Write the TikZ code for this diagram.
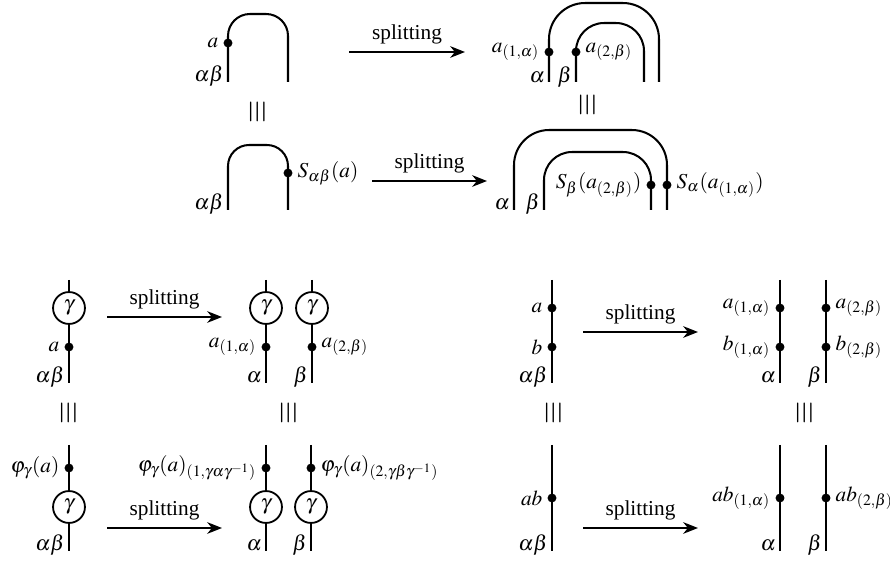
\documentclass[tikz,border=0pt]{standalone}
\usepackage{mathptmx}
\usepackage{fontspec}
\setmainfont{Liberation Serif}
\usetikzlibrary{arrows.meta}

\begin{document}
\begin{tikzpicture}[x=0.47pt, y=-0.47pt, line width=0.95pt,
	dot/.style={circle, fill, inner sep=0pt, minimum size=4.2pt},
	coupon/.style={circle, draw, inner sep=0pt, minimum size=15pt, line width=0.85pt},
	split/.style={-{Stealth[length=7pt, width=5.5pt]}, line width=0.85pt},
	strandlbl/.style={left, inner sep=1.5pt},
	every label/.style={inner sep=1.5pt},
	equal/.style={rotate=90, xscale=1.4, yscale=1.6, inner sep=0pt}]

	\useasboundingbox (0,0) rectangle (890,563);

	% antipode, first side
	\draw[rounded corners=10.3pt] (228,82) -- (228,14) -- (288,14) -- (288,82);
	\node[dot, label=left:$a$] (a0) at (228,43) {};
	\node[strandlbl] (ab0) at (228,76) {$\alpha\beta$};
	\coordinate (s1) at (349,52);
	\coordinate (t1) at (465,52);
	\draw[split] (s1) -- (t1) node[midway, above] {splitting};
	\draw[rounded corners=17pt] (549,82) -- (549,3) -- (659,3) -- (659,82);
	\draw[rounded corners=13.2pt] (576,82) -- (576,23) -- (644,23) -- (644,82);
	\node[dot, label=left:$a_{(1,\alpha)}$] (a1) at (549,52) {};
	\node[dot, label=right:$a_{(2,\beta)}$] (a2) at (576,52) {};
	\node[strandlbl] (al1) at (549,77) {$\alpha$};
	\node[strandlbl] (be1) at (576,77) {$\beta$};
	\node[equal] (eq1) at (258,112) {$\equiv$};
	\node[equal] (eq2) at (588,105) {$\equiv$};

	% antipode, second side
	\draw[rounded corners=9.9pt] (228,210) -- (228,145) -- (288,145) -- (288,210);
	\node[dot, label=right:$S_{\alpha\beta}(a)$] (sa0) at (288,173) {};
	\node[strandlbl] (ab1) at (228,204) {$\alpha\beta$};
	\coordinate (s2) at (372,181);
	\coordinate (t2) at (487,181);
	\draw[split] (s2) -- (t2) node[midway, above] {splitting};
	\draw[rounded corners=16.5pt] (514,210) -- (514,130) -- (667,130) -- (667,210);
	\draw[rounded corners=13.2pt] (544,210) -- (544,152) -- (651,152) -- (651,210);
	\node[dot, label=left:$S_{\beta}(a_{(2,\beta)})$] (sa2) at (651,185) {};
	\node[dot, label=right:$S_{\alpha}(a_{(1,\alpha)})$] (sa1) at (667,185) {};
	\node[strandlbl] (al2) at (514,204) {$\alpha$};
	\node[strandlbl] (be2) at (544,204) {$\beta$};

	% crossing, first side
	\node[coupon] (g0) at (69,308) {$\gamma$};
	\draw (69,280) -- (g0) -- (69,383);
	\node[dot, label=left:$a$] (c0) at (69,347) {};
	\node[strandlbl] (ab2) at (69,377) {$\alpha\beta$};
	\coordinate (s3) at (107,317);
	\coordinate (t3) at (222,317);
	\draw[split] (s3) -- (t3) node[midway, above] {splitting};
	\node[coupon] (g1) at (266,308) {$\gamma$};
	\node[coupon] (g2) at (312,308) {$\gamma$};
	\draw (266,280) -- (g1) -- (266,383);
	\draw (312,280) -- (g2) -- (312,383);
	\node[dot, label=left:$a_{(1,\alpha)}$] (c1) at (266,347) {};
	\node[dot, label=right:$a_{(2,\beta)}$] (c2) at (312,347) {};
	\node[strandlbl] (al3) at (266,377) {$\alpha$};
	\node[strandlbl] (be3) at (312,377) {$\beta$};
	\node[equal] (eq3) at (69,413) {$\equiv$};
	\node[equal] (eq4) at (289,413) {$\equiv$};

	% crossing, second side
	\node[coupon] (h0) at (69,507) {$\gamma$};
	\draw (69,445) -- (h0) -- (69,551);
	\node[dot, label=left:$\varphi_{\gamma}(a)$] (d0) at (69,468) {};
	\node[strandlbl] (ab3) at (69,545) {$\alpha\beta$};
	\coordinate (s4) at (107,528);
	\coordinate (t4) at (222,528);
	\draw[split] (s4) -- (t4) node[midway, above] {splitting};
	\node[coupon] (h1) at (266,507) {$\gamma$};
	\node[coupon] (h2) at (311,507) {$\gamma$};
	\draw (266,445) -- (h1) -- (266,551);
	\draw (311,445) -- (h2) -- (311,551);
	\node[dot, label=left:$\varphi_{\gamma}(a)_{(1,\gamma\alpha\gamma^{-1})}$] (d1) at (266,468) {};
	\node[dot, label=right:$\varphi_{\gamma}(a)_{(2,\gamma\beta\gamma^{-1})}$] (d2) at (311,468) {};
	\node[strandlbl] (al4) at (266,545) {$\alpha$};
	\node[strandlbl] (be4) at (311,545) {$\beta$};

	% product, first side
	\draw (552,280) -- (552,383);
	\node[dot, label=left:$a$] (p0) at (552,308) {};
	\node[dot, label=left:$b$] (q0) at (552,347) {};
	\node[strandlbl] (ab4) at (552,377) {$\alpha\beta$};
	\coordinate (s5) at (583,332);
	\coordinate (t5) at (698,332);
	\draw[split] (s5) -- (t5) node[midway, above] {splitting};
	\draw (780,280) -- (780,383);
	\draw (826,280) -- (826,383);
	\node[dot, label=left:$a_{(1,\alpha)}$] (p1) at (780,308) {};
	\node[dot, label=right:$a_{(2,\beta)}$] (p2) at (826,308) {};
	\node[dot, label=left:$b_{(1,\alpha)}$] (q1) at (780,347) {};
	\node[dot, label=right:$b_{(2,\beta)}$] (q2) at (826,347) {};
	\node[strandlbl] (al5) at (780,377) {$\alpha$};
	\node[strandlbl] (be5) at (826,377) {$\beta$};
	\node[equal] (eq5) at (554,413) {$\equiv$};
	\node[equal] (eq6) at (805,413) {$\equiv$};

	% product, second side
	\draw (552,445) -- (552,551);
	\node[dot, label=left:$ab$] (r0) at (552,498) {};
	\node[strandlbl] (ab5) at (552,545) {$\alpha\beta$};
	\coordinate (s6) at (583,528);
	\coordinate (t6) at (698,528);
	\draw[split] (s6) -- (t6) node[midway, above] {splitting};
	\draw (780,445) -- (780,551);
	\draw (826,445) -- (826,551);
	\node[dot, label=left:$ab_{(1,\alpha)}$] (r1) at (780,498) {};
	\node[dot, label=right:$ab_{(2,\beta)}$] (r2) at (826,498) {};
	\node[strandlbl] (al6) at (780,545) {$\alpha$};
	\node[strandlbl] (be6) at (826,545) {$\beta$};

\end{tikzpicture}
\end{document}
